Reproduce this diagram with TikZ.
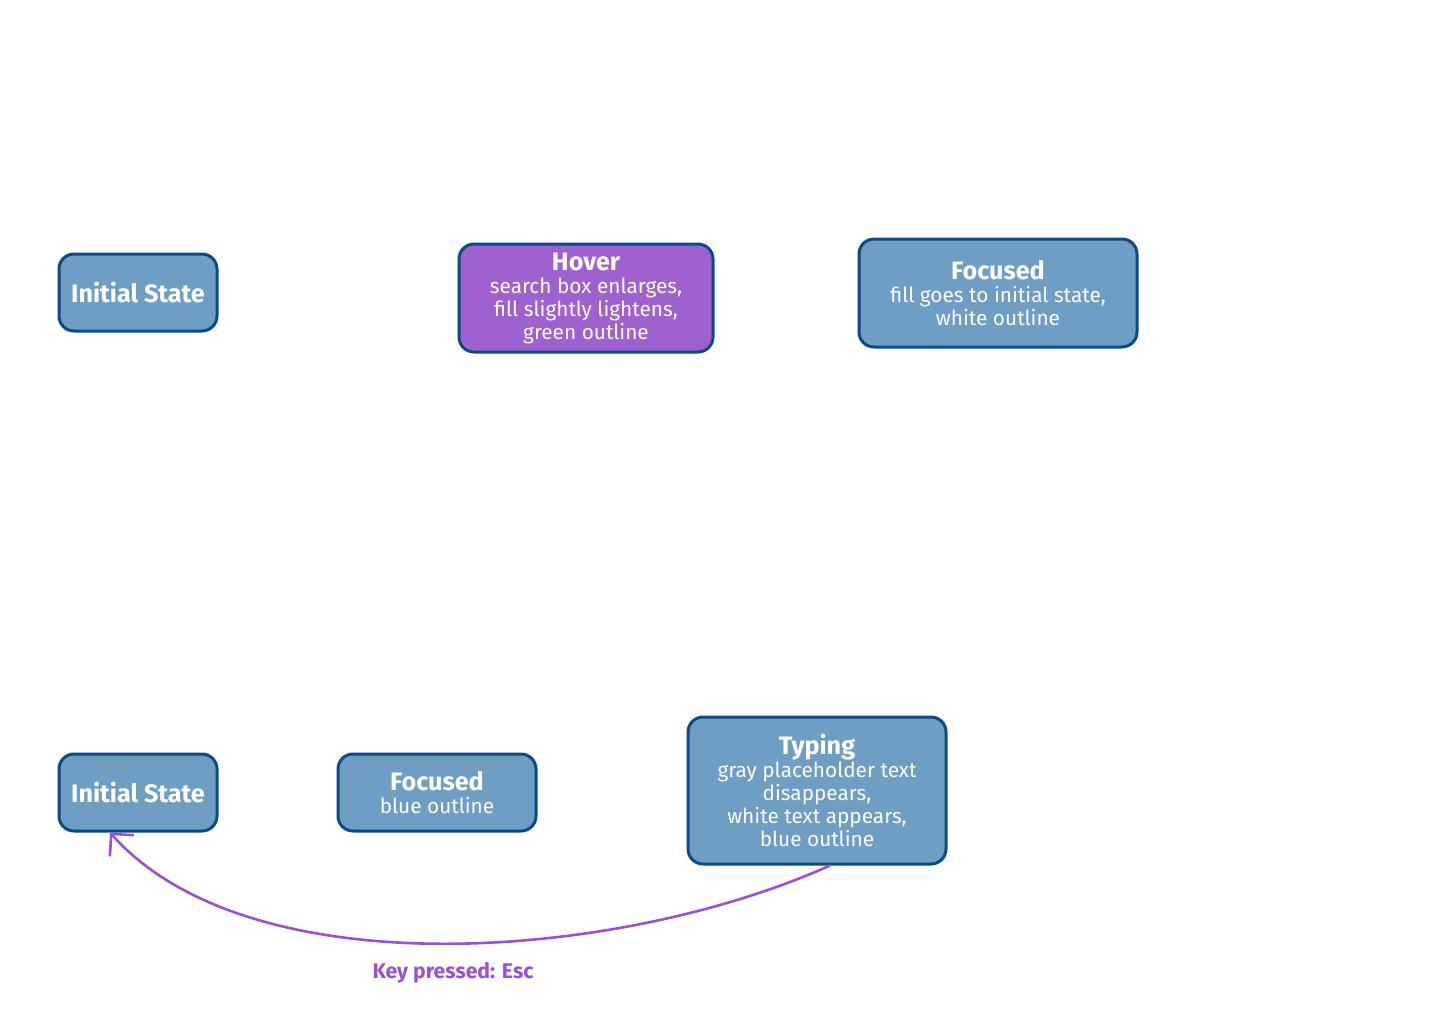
\documentclass[tikz,border=0pt]{standalone}
\usepackage{fontspec}
\setmainfont{Fira Sans}
\usetikzlibrary{arrows.meta}
\definecolor{boxfill}{HTML}{6F9EC5}
\definecolor{boxline}{HTML}{0B4A85}
\definecolor{hoverfill}{HTML}{A061D0}
\definecolor{edgepurple}{HTML}{9B4FD6}
\tikzset{
  statebox/.style={draw=boxline, line width=1.5pt, fill=boxfill, rounded corners=7.5pt,
    text=white, align=center, inner sep=2pt, font=\fontsize{10.4}{11.5}\selectfont},
  hoverbox/.style={statebox, fill=hoverfill},
  esclink/.style={draw=edgepurple, line width=1.3pt, -{Straight Barb[length=8pt,width=16pt,line width=1.3pt]}},
  esclabel/.style={text=edgepurple, font=\fontsize{10.6}{12}\selectfont\bfseries},
}
\newcommand{\ttl}[1]{{\fontsize{12.6}{13.5}\selectfont\bfseries #1}}
\begin{document}
\begin{tikzpicture}[x=0.5pt,y=-0.5pt]
\useasboundingbox (0,0) rectangle (1440,1024);
\node[statebox, minimum width=79pt, minimum height=38.5pt] (init1) at (138,292.5) {\ttl{Initial State}};
\node[hoverbox, minimum width=127pt, minimum height=54pt] (hover) at (586,298) {\ttl{Hover}\\search box enlarges,\\fill slightly lightens,\\green outline};
\node[statebox, minimum width=139pt, minimum height=54pt] (focus1) at (998,293) {\ttl{Focused}\\fill goes to initial state,\\white outline};
\node[statebox, minimum width=79pt, minimum height=38.5pt] (init2) at (138,792.5) {\ttl{Initial State}};
\node[statebox, minimum width=99pt, minimum height=38.5pt] (focus2) at (437,792.5) {\ttl{Focused}\\blue outline};
\node[statebox, minimum width=129pt, minimum height=73.5pt] (typing) at (817,790.5) {\ttl{Typing}\\gray placeholder text\\disappears,\\white text appears,\\blue outline};
\draw[esclink] ([xshift=6.5pt]typing.south) .. controls (620,960) and (250,990) .. ([xshift=-14pt]init2.south);
\node[esclabel] (esc) at (453,973) {Key pressed: Esc};
\end{tikzpicture}
\end{document}
